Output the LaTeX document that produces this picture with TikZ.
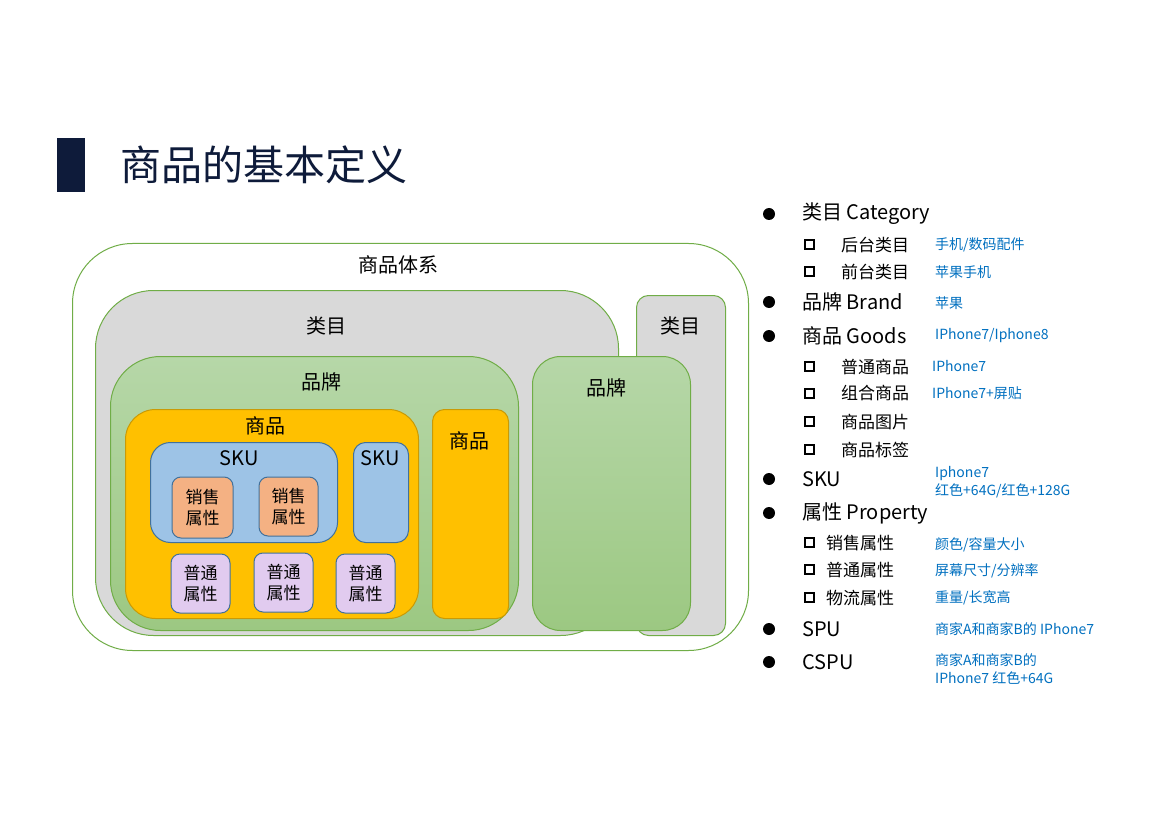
\documentclass[tikz,border=0pt]{standalone}
\usepackage{fontspec}
\setmainfont{Noto Sans CJK SC}
\usetikzlibrary{positioning}
\definecolor{navy}{HTML}{0E1B3A}
\definecolor{grn}{HTML}{70AD47}
\definecolor{grayfill}{HTML}{D9D9D9}
\definecolor{grntop}{HTML}{B6D7A8}
\definecolor{grnbot}{HTML}{9CC882}
\definecolor{gold}{HTML}{FFC000}
\definecolor{goldline}{HTML}{C99A06}
\definecolor{skublue}{HTML}{9DC3E6}
\definecolor{skuline}{HTML}{41719C}
\definecolor{salefill}{HTML}{F4B183}
\definecolor{propfill}{HTML}{E1CBEF}
\definecolor{note}{HTML}{0070C0}

\begin{document}
\begin{tikzpicture}[
  x=1pt, y=-1pt,
  box/.style={anchor=north west, inner sep=0pt, line width=1pt},
  sysbox/.style={box, draw=grn, fill=white},
  catbox/.style={box, draw=grn, fill=grayfill},
  brandbox/.style={box, draw=grn, top color=grntop, bottom color=grnbot},
  goodsbox/.style={box, draw=goldline, fill=gold},
  skubox/.style={box, draw=skuline, fill=skublue},
  attr/.style={draw=skuline, line width=1pt, rounded corners=9pt, minimum width=59pt, minimum height=59pt,
    inner sep=0pt, align=center, font=\fontsize{17}{21}\selectfont},
  lbl/.style={inner sep=0pt, font=\fontsize{20}{24}\selectfont},
  item/.style={anchor=west, inner sep=0pt, font=\fontsize{20}{24}\selectfont},
  sub/.style={anchor=west, inner sep=0pt, font=\fontsize{17}{21}\selectfont},
  memo/.style={anchor=west, inner sep=0pt, text=note, align=left, font=\fontsize{14}{18}\selectfont},
  dot/.style={fill=black},
  sq/.style={draw=black, line width=2pt},
]
\useasboundingbox [fill=white] (0,0) rectangle (1169,826);

% title
\fill [navy] (57,138) rectangle (85,192);
\node [anchor=west, inner sep=0pt, text=navy, font=\fontsize{41}{48}\selectfont] (title) at (120,165) {商品的基本定义};

% nested boxes
\node [sysbox, minimum width=676pt, minimum height=407pt, rounded corners=60pt] (sys) at (72,243) {};
\node [lbl] (sysl) at (398,265) {商品体系};

\node [catbox, minimum width=523pt, minimum height=345pt, rounded corners=58pt] (cata) at (95,290) {};
\node [lbl] (catal) at (326,326) {类目};
\node [catbox, minimum width=89pt, minimum height=340pt, rounded corners=12pt] (catb) at (636,295) {};
\node [lbl] (catbl) at (680,326) {类目};

\node [brandbox, minimum width=408pt, minimum height=274pt, rounded corners=50pt] (brda) at (110,356) {};
\node [lbl] (brdal) at (321,382) {品牌};
\node [brandbox, minimum width=158pt, minimum height=274pt, rounded corners=28pt] (brdb) at (532,356) {};
\node [lbl] (brdbl) at (606,388) {品牌};

\node [goodsbox, minimum width=293pt, minimum height=209pt, rounded corners=30pt] (gdsa) at (125,409) {};
\node [lbl] (gdsal) at (265,426) {商品};
\node [goodsbox, minimum width=76pt, minimum height=209pt, rounded corners=12pt] (gdsb) at (432,409) {};
\node [lbl] (gdsbl) at (469,441) {商品};

\node [skubox, minimum width=187pt, minimum height=100pt, rounded corners=20pt] (skua) at (150,442) {};
\node [lbl] (skual) at (239,458) {SKU};
\node [skubox, minimum width=55pt, minimum height=100pt, rounded corners=12pt] (skub) at (353,442) {};
\node [lbl] (skubl) at (380,458) {SKU};

\node [attr, fill=salefill, minimum width=61pt, minimum height=61pt] (salea) at (202.5,507.5) {销售\\属性};
\node [attr, fill=salefill] (saleb) at (288.5,506.5) {销售\\属性};

\node [attr, fill=propfill] (propa) at (200.5,583.5) {普通\\属性};
\node [attr, fill=propfill] (propb) at (283.5,582.5) {普通\\属性};
\node [attr, fill=propfill] (propc) at (365.5,583.5) {普通\\属性};

% list
\path [dot] (769,214) circle [radius=6];
\node [item] (cat) at (802,214) {类目 Category};
\draw [sq] (805,240) rectangle (814,249);
\node [sub] (back) at (841,245) {后台类目};
\node [memo] (backm) at (935,245) {手机/数码配件};
\draw [sq] (805,267) rectangle (814,276);
\node [sub] (front) at (841,272) {前台类目};
\node [memo] (frontm) at (935,272) {苹果手机};

\path [dot] (769,302) circle [radius=6];
\node [item] (brand) at (802,302) {品牌 Brand};
\node [memo] (brandm) at (935,303) {苹果};

\path [dot] (769,336) circle [radius=6];
\node [item] (goods) at (802,336) {商品 Goods};
\node [memo] (goodsm) at (935,336) {IPhone7/Iphone8};
\draw [sq] (805,362) rectangle (814,371);
\node [sub] (plain) at (841,367) {普通商品};
\node [memo] (plainm) at (932,366) {IPhone7};
\draw [sq] (805,389) rectangle (814,398);
\node [sub] (combo) at (841,393) {组合商品};
\node [memo] (combom) at (932,393) {IPhone7+屏贴};
\draw [sq] (805,417) rectangle (814,426);
\node [sub] (pic) at (841,422) {商品图片};
\draw [sq] (805,445) rectangle (814,454);
\node [sub] (tag) at (841,450) {商品标签};

\path [dot] (769,479) circle [radius=6];
\node [item] (sku) at (802,479) {SKU};
\node [memo] (skum) at (935,482) {Iphone7\\红色+64G/红色+128G};

\path [dot] (769,513) circle [radius=6];
\node [item] (prop) at (802,513) {属性 Property};
\draw [sq] (805,538) rectangle (814,547);
\node [sub] (sale) at (826,543) {销售属性};
\node [memo] (salem) at (935,545) {颜色/容量大小};
\draw [sq] (805,565) rectangle (814,574);
\node [sub] (norm) at (826,570) {普通属性};
\node [memo] (normm) at (935,571) {屏幕尺寸/分辨率};
\draw [sq] (805,593) rectangle (814,602);
\node [sub] (ship) at (826,598) {物流属性};
\node [memo] (shipm) at (935,598) {重量/长宽高};

\path [dot] (769,629) circle [radius=6];
\node [item] (spu) at (802,629) {SPU};
\node [memo] (spum) at (935,629) {商家A和商家B的 IPhone7};

\path [dot] (769,662) circle [radius=6];
\node [item] (cspu) at (802,662) {CSPU};
\node [memo] (cspum) at (935,669) {商家A和商家B的\\IPhone7 红色+64G};

\end{tikzpicture}
\end{document}
